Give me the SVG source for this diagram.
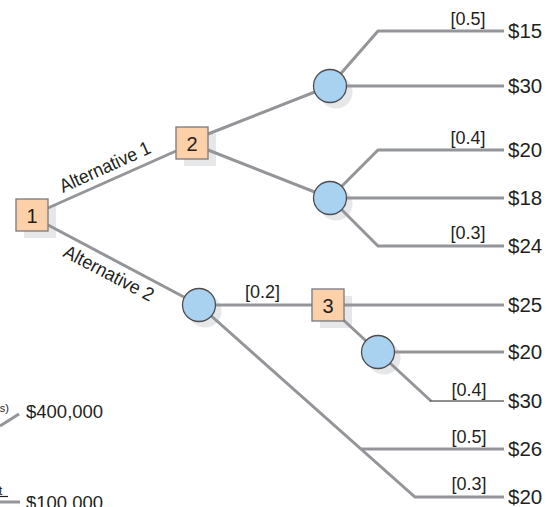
<svg xmlns="http://www.w3.org/2000/svg" width="549" height="507" viewBox="0 0 549 507">
<style>
.ln{fill:none;stroke:#939598;stroke-width:3;stroke-linejoin:miter}
.thin{fill:none;stroke:#231f20;stroke-width:1.2}
.sq{fill:#fcd0a8;stroke:#77787b;stroke-width:1.3}
.ci{fill:#a9d1f0;stroke:#4d4d4f;stroke-width:1.3}
.sh{fill:#e6e7e8}
text{font-family:"Liberation Sans",Arial,sans-serif;fill:#231f20}
.val{font-size:20.5px}
.prob{font-size:18px;text-anchor:middle}
.num{font-size:20px;text-anchor:middle}
.alt{font-size:19px}
</style>
<rect width="549" height="507" fill="#ffffff"/>
<g id="shadows">
<rect class="sh" x="24" y="206" width="32" height="32"/>
<rect class="sh" x="184" y="134" width="32" height="32"/>
<rect class="sh" x="320" y="296" width="32" height="32"/>
<circle class="sh" cx="336" cy="92" r="16.5"/>
<circle class="sh" cx="336" cy="204" r="16.5"/>
<circle class="sh" cx="205" cy="311" r="16.5"/>
<circle class="sh" cx="384" cy="358" r="16.5"/>
</g>
<g id="connectors">
<line class="ln" x1="48" y1="208" x2="176" y2="151"/>
<line class="ln" x1="48" y1="225" x2="199" y2="305"/>
<line class="ln" x1="208" y1="134" x2="330" y2="86"/>
<line class="ln" x1="208" y1="150" x2="330" y2="198"/>
<polyline class="ln" points="330,86 378,31 504,31"/>
<line class="ln" x1="330" y1="86" x2="504" y2="86"/>
<polyline class="ln" points="330,198 378,150 504,150"/>
<line class="ln" x1="330" y1="198" x2="504" y2="198"/>
<polyline class="ln" points="330,198 378,246 504,246"/>
<line class="ln" x1="199" y1="305" x2="312" y2="305"/>
<polyline class="ln" points="199,305 415,497 504,497"/>
<line class="ln" x1="361" y1="449" x2="504" y2="449"/>
<line class="ln" x1="344" y1="305" x2="504" y2="305"/>
<line class="ln" x1="338" y1="315" x2="378" y2="352"/>
<line class="ln" x1="378" y1="352" x2="504" y2="352"/>
<line class="ln" x1="378" y1="352" x2="431" y2="401"/>
<line class="thin" x1="430" y1="401" x2="504" y2="401"/>
<line class="ln" x1="0" y1="426" x2="19" y2="414"/>
<line class="thin" x1="0" y1="496.5" x2="8" y2="496.5"/>
<line class="ln" x1="0" y1="502" x2="20" y2="502"/>
</g>
<g id="node1"><rect class="sq" x="16" y="199" width="32" height="32"/><text class="num" x="32" y="222.5">1</text></g>
<g id="node2"><rect class="sq" x="176" y="127" width="32" height="32"/><text class="num" x="192" y="150.5">2</text></g>
<g id="node3"><rect class="sq" x="312" y="289" width="32" height="32"/><text class="num" x="328" y="312.5">3</text></g>
<g id="chanceA"><circle class="ci" cx="330" cy="86" r="16.5"/></g>
<g id="chanceB"><circle class="ci" cx="330" cy="198" r="16.5"/></g>
<g id="chanceC"><circle class="ci" cx="199" cy="305" r="16.5"/></g>
<g id="chanceD"><circle class="ci" cx="378" cy="352" r="16.5"/></g>
<g id="labels">
<text class="alt" transform="translate(63,193) rotate(-24.4)" textLength="98" lengthAdjust="spacingAndGlyphs">Alternative 1</text>
<text class="alt" transform="translate(62,256) rotate(27.6)" textLength="99" lengthAdjust="spacingAndGlyphs">Alternative 2</text>
<text class="prob" x="468" y="25">[0.5]</text>
<text class="prob" x="468" y="144">[0.4]</text>
<text class="prob" x="468" y="239">[0.3]</text>
<text class="prob" x="262.5" y="298">[0.2]</text>
<text class="prob" x="469" y="396">[0.4]</text>
<text class="prob" x="469" y="443">[0.5]</text>
<text class="prob" x="469" y="490">[0.3]</text>
<text class="val" x="508" y="38">$15</text>
<text class="val" x="508" y="93">$30</text>
<text class="val" x="508" y="157">$20</text>
<text class="val" x="508" y="205">$18</text>
<text class="val" x="508" y="253">$24</text>
<text class="val" x="508" y="312">$25</text>
<text class="val" x="508" y="359">$20</text>
<text class="val" x="508" y="408">$30</text>
<text class="val" x="508" y="456">$26</text>
<text class="val" x="508" y="504">$20</text>
<text style="font-size:11px" x="9" y="412" text-anchor="end">s)</text>
<text style="font-size:18.5px" x="26" y="418">$400,000</text>
<text style="font-size:12px" x="-1" y="495">t</text>
<text style="font-size:18.5px" x="26" y="509">$100,000</text>
</g>
</svg>
